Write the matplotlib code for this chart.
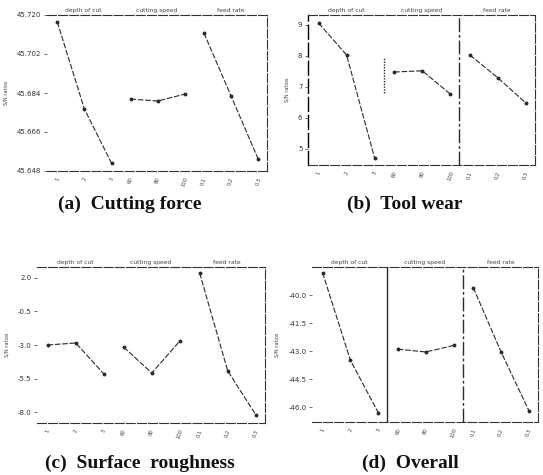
import numpy as np
import matplotlib
matplotlib.use("Agg")
import matplotlib.pyplot as plt

# factor names shown in the strip above each plot
factors = ["depth of cut", "cutting speed", "feed rate"]
level_labels = [["1", "2", "3"], ["60", "80", "100"], ["0.1", "0.2", "0.3"]]

# mean S/N ratio per factor level
force_sn = [[45.7168, 45.6766, 45.6516],
            [45.6812, 45.6803, 45.6835],
            [45.7117, 45.6826, 45.6535]]
wear_sn = [[9.06, 8.03, 4.71],
           [7.48, 7.52, 6.77],
           [8.03, 7.29, 6.48]]
rough_sn = [[-3.00, -2.85, -5.16],
            [-3.15, -5.09, -2.70],
            [2.37, -4.94, -8.22]]
overall_sn = [[-38.8, -43.5, -46.3],
              [-42.9, -43.05, -42.7],
              [-39.6, -43.05, -46.2]]

force_ticks = [45.720, 45.702, 45.684, 45.666, 45.648]
wear_ticks = [9, 8, 7, 6, 5]
rough_ticks = [2.0, -0.5, -3.0, -5.5, -8.0]
overall_ticks = [-40.0, -41.5, -43.0, -44.5, -46.0]

captions = ["(a)  Cutting force", "(b)  Tool wear",
            "(c)  Surface  roughness", "(d)  Overall"]

W, H = 543, 475
fig = plt.figure(figsize=(W / 100, H / 100), dpi=100)

offs = [0.14, 0.51, 0.88]
ink = "#2a2a2a"


def box(l, t, r, b):
    return [l / W, 1 - b / H, (r - l) / W, (b - t) / H]


def main_effects(ax, data, ticks, ylim, fmt, dividers=()):
    for p in range(3):
        xs = [p + o for o in offs]
        ax.plot(xs, data[p], color=ink, lw=0.8, ls=(0, (5, 1.6)),
                marker="o", ms=1.8, mfc=ink, mec=ink)
        ax.text(p + 0.5, 1.012, factors[p], transform=ax.get_xaxis_transform(),
                ha="center", va="bottom", fontsize=4.3, color="#444")
    for xd, ls, y0, y1 in dividers:
        ax.plot([xd, xd], [y0, y1], color=ink, lw=1.0, ls=ls,
                transform=ax.get_xaxis_transform())
    ax.set_xlim(0, 3)
    ax.set_ylim(*ylim)
    ax.set_yticks(ticks)
    ax.set_yticklabels([fmt % v for v in ticks], fontsize=5, color="#333")
    xt = [p + o for p in range(3) for o in offs]
    ax.set_xticks(xt)
    ax.set_xticklabels([l for grp in level_labels for l in grp],
                       fontsize=3.8, rotation=70, color="#444")
    ax.tick_params(axis="both", length=2, width=0.6, color="#555", pad=2)
    ax.tick_params(axis="x", length=0, pad=4)
    for s in ["top", "right", "bottom"]:
        ax.spines[s].set_linestyle((0, (8, 2)))
        ax.spines[s].set_linewidth(0.8)
        ax.spines[s].set_color("#333")
    ax.spines["left"].set_visible(False)
    ax.set_ylabel("S/N ratios", fontsize=3.6, color="#444", labelpad=6)


ax_a = fig.add_axes(box(47, 15, 267, 171))
main_effects(ax_a, force_sn, force_ticks, (45.648, 45.720), "%.3f")

ax_b = fig.add_axes(box(308, 15, 535, 165))
main_effects(ax_b, wear_sn, wear_ticks, (4.48, 9.32), "%d",
             dividers=[(1.0, (0, (1, 1)), 0.48, 0.72), (2.0, (0, (10, 2, 2, 2)), 0.0, 1.0)])
ax_b.spines["left"].set_visible(True)
ax_b.spines["left"].set_linestyle((0, (10, 3)))
ax_b.spines["left"].set_linewidth(1.0)

ax_c = fig.add_axes(box(37, 267, 265, 423))
main_effects(ax_c, rough_sn, rough_ticks, (-8.82, 2.82), "%.1f")

ax_d = fig.add_axes(box(312, 267, 538, 422))
main_effects(ax_d, overall_sn, overall_ticks, (-46.8, -38.5), "%.1f",
             dividers=[(1.0, "-", 0.0, 1.0), (2.0, (0, (10, 2, 2, 2)), 0.0, 1.0)])

cap_pos = [(130, 204), (405, 204), (140, 463), (410, 463)]
for (cx, cy), txt in zip(cap_pos, captions):
    fig.text(cx / W, 1 - cy / H, txt, ha="center", va="center",
             fontsize=14, fontweight="bold", family="Liberation Serif", color="#111")

fig.savefig("out.png", dpi=100)
